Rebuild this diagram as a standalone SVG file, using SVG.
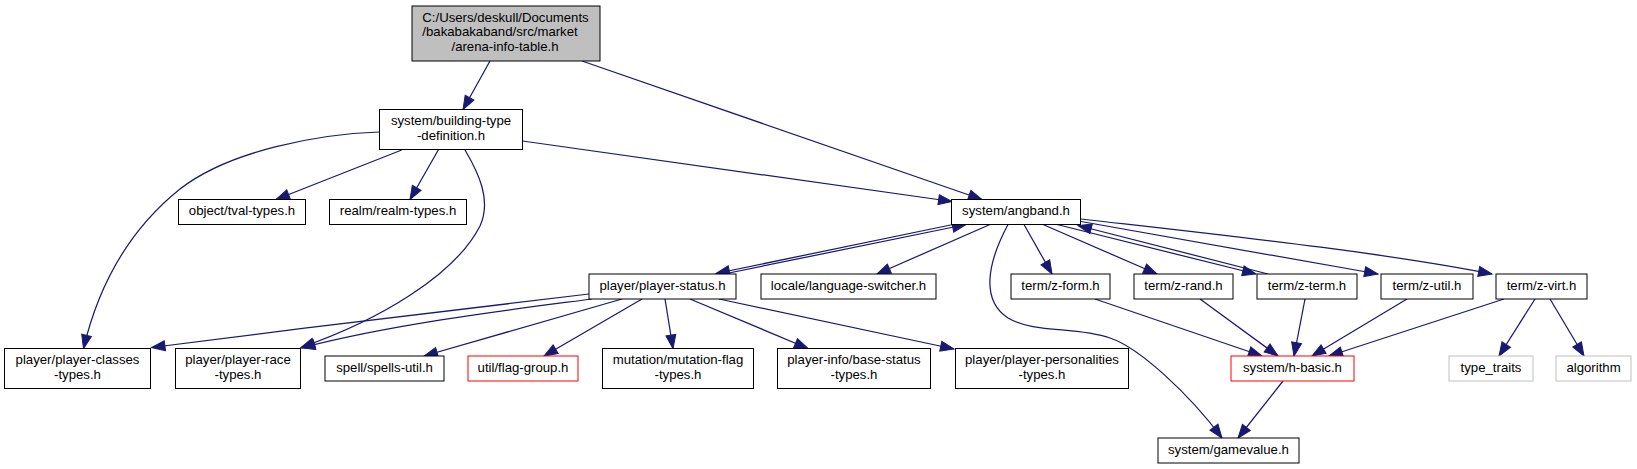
<svg xmlns="http://www.w3.org/2000/svg" width="1637" height="469" viewBox="0 0 1637 469">
<style>
.n rect{fill:#fff;stroke:#000;stroke-width:1}
.root rect{fill:#bfbfbf;stroke:#000}
.red rect{stroke:#ff0000}
.ext rect{stroke:#bfbfbf}
text{font-family:"Liberation Sans",Arial,Helvetica,sans-serif;font-size:13.2px;text-anchor:middle;fill:#000}
.e path{fill:none;stroke:#191970;stroke-width:1.25;marker-end:url(#arr)}
</style>
<defs>
<marker id="arr" markerUnits="userSpaceOnUse" markerWidth="15" markerHeight="11" refX="13.5" refY="5" orient="auto" overflow="visible">
<path d="M0,0 L13.5,5 L0,10 z" fill="#191970" stroke="#191970" stroke-width="1"/>
</marker>
</defs>
<rect width="1637" height="469" fill="#fff"/>
<g class="e" id="edges">
<path d="M490,61 L463,109.5"/>
<path d="M582,61 L982,199.5"/>
<path d="M522.5,141 L952,201.5"/>
<path d="M401.7,150 L276,199.5"/>
<path d="M438.3,150 L410,199.5"/>
<path d="M379,132 C320,134 230,150 180,189 C120,237 95,300 83.5,348.5"/>
<path d="M465,150 C478,172 492,200 480,226 C455,275 380,320 301,347.5"/>
<path d="M953,224.5 L716,273.5"/>
<path d="M724,274 L966,224.5"/>
<path d="M990,224.5 L877,274"/>
<path d="M1024,224.5 L1052,274"/>
<path d="M1008,224.5 C988,262 980,300 1008,318 C1035,334 1075,326 1110,338 C1140,348 1190,395 1222,438"/>
<path d="M1043,224.5 L1157,274"/>
<path d="M1057,224.5 L1256,274"/>
<path d="M1268,274 L1078,225.5"/>
<path d="M1081,221.5 L1378,274"/>
<path d="M1081,219 C1230,236 1380,252 1492,274"/>
<path d="M589,294 C500,305 300,328 151.5,347.5"/>
<path d="M592,299 C540,306 400,322 301.5,348"/>
<path d="M622,299 L424,356"/>
<path d="M642,299 L544,356"/>
<path d="M665,299 L673,348.5"/>
<path d="M690,299 L808,348.5"/>
<path d="M719,299 L954,349"/>
<path d="M1095,299 L1262,356"/>
<path d="M1200,299 L1278,356"/>
<path d="M1305,299 L1294,356"/>
<path d="M1407,299 L1312,356"/>
<path d="M1504,299 L1329,356"/>
<path d="M1535,299 L1499,356"/>
<path d="M1550,299 L1584,356"/>
<path d="M1283,381 L1238,438"/>
</g>
<g class="n root" id="node-root"><rect x="412" y="6" width="188" height="55"/><text x="505.5" y="21.5">C:/Users/deskull/Documents</text><text x="500" y="36.3">/bakabakaband/src/market</text><text x="505" y="51">/arena-info-table.h</text></g>
<g class="n" id="node-building"><rect x="379.5" y="109.5" width="143" height="40"/><text x="451" y="125">system/building-type</text><text x="451" y="139.6">-definition.h</text></g>
<g class="n" id="node-tval"><rect x="178.5" y="199.5" width="127" height="25"/><text x="242" y="215">object/tval-types.h</text></g>
<g class="n" id="node-realm"><rect x="329.5" y="199.5" width="137" height="25"/><text x="398" y="215">realm/realm-types.h</text></g>
<g class="n" id="node-angband"><rect x="951.5" y="199.5" width="129" height="25"/><text x="1016" y="215">system/angband.h</text></g>
<g class="n" id="node-status"><rect x="589" y="274" width="147" height="25"/><text x="662.5" y="289.5">player/player-status.h</text></g>
<g class="n" id="node-language"><rect x="761" y="274" width="175" height="25"/><text x="848.5" y="289.5">locale/language-switcher.h</text></g>
<g class="n" id="node-zform"><rect x="1011" y="274" width="99" height="25"/><text x="1060.5" y="289.5">term/z-form.h</text></g>
<g class="n" id="node-zrand"><rect x="1134" y="274" width="99" height="25"/><text x="1183.5" y="289.5">term/z-rand.h</text></g>
<g class="n" id="node-zterm"><rect x="1257" y="274" width="100" height="25"/><text x="1307" y="289.5">term/z-term.h</text></g>
<g class="n" id="node-zutil"><rect x="1381" y="274" width="92" height="25"/><text x="1427" y="289.5">term/z-util.h</text></g>
<g class="n" id="node-zvirt"><rect x="1496" y="274" width="91" height="25"/><text x="1541.5" y="289.5">term/z-virt.h</text></g>
<g class="n" id="node-classes"><rect x="4.5" y="348.5" width="146" height="40"/><text x="77.5" y="364">player/player-classes</text><text x="77.5" y="378.6">-types.h</text></g>
<g class="n" id="node-race"><rect x="175.5" y="348.5" width="125" height="40"/><text x="238" y="364">player/player-race</text><text x="238" y="378.6">-types.h</text></g>
<g class="n" id="node-spells"><rect x="325" y="356" width="119" height="25"/><text x="384.5" y="371.5">spell/spells-util.h</text></g>
<g class="n red" id="node-flaggroup"><rect x="468" y="356" width="110" height="25"/><text x="523" y="371.5">util/flag-group.h</text></g>
<g class="n" id="node-mutation"><rect x="602.5" y="348.5" width="151" height="40"/><text x="678" y="364">mutation/mutation-flag</text><text x="678" y="378.6">-types.h</text></g>
<g class="n" id="node-basestatus"><rect x="777.5" y="348.5" width="153" height="40"/><text x="854" y="364">player-info/base-status</text><text x="854" y="378.6">-types.h</text></g>
<g class="n" id="node-personalities"><rect x="955.5" y="348.5" width="173" height="40"/><text x="1042" y="364">player/player-personalities</text><text x="1042" y="378.6">-types.h</text></g>
<g class="n red" id="node-hbasic"><rect x="1231" y="356" width="123" height="25"/><text x="1292.5" y="371.5">system/h-basic.h</text></g>
<g class="n ext" id="node-typetraits"><rect x="1449" y="356" width="84" height="25"/><text x="1491" y="371.5">type_traits</text></g>
<g class="n ext" id="node-algorithm"><rect x="1556" y="356" width="75" height="25"/><text x="1593.5" y="371.5">algorithm</text></g>
<g class="n" id="node-gamevalue"><rect x="1158" y="438" width="141" height="25"/><text x="1228.5" y="453.5">system/gamevalue.h</text></g>
</svg>
